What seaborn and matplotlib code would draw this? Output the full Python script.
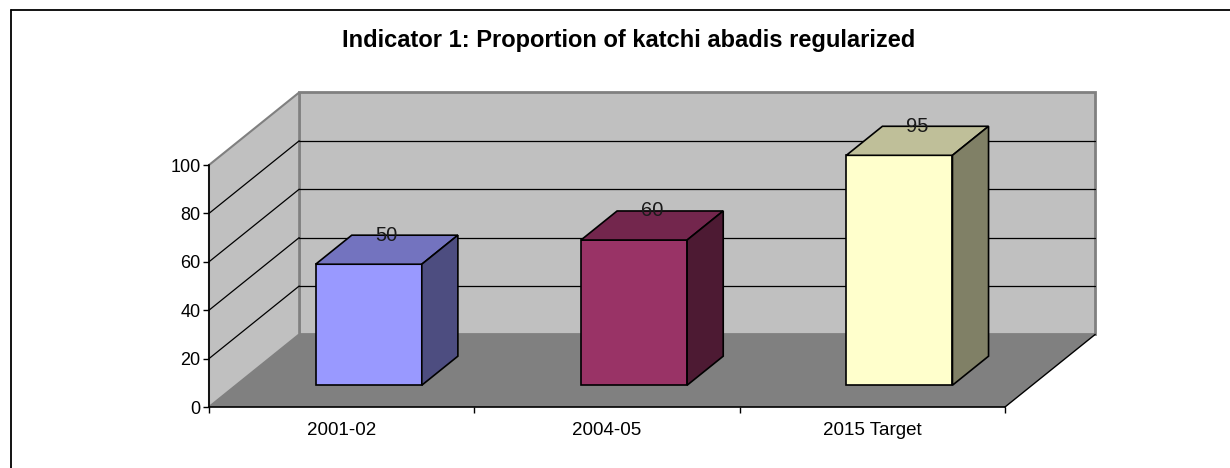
import matplotlib
matplotlib.use('Agg')
import matplotlib.pyplot as plt
import matplotlib.colors as mcolors
from matplotlib.patches import Polygon
from matplotlib.lines import Line2D
from matplotlib.transforms import Affine2D
import seaborn as sns
import pandas as pd

sns.set_theme(style='white')
plt.rcParams['font.family'] = ['Liberation Sans', 'DejaVu Sans']

# chart data
categories = ['2001-02', '2004-05', '2015 Target']
values = [50, 60, 95]
yticks = [0, 20, 40, 60, 80, 100]
title = 'Indicator 1: Proportion of katchi abadis regularized'

bar_colors = ['#9999FF', '#993366', '#FFFFCC']

# 3d look: depth vector of the walls in data units, bar front/back depth fractions
DX, DY = 0.34, 30.0
F0, F1 = 0.30, 0.70
W, H = 1230, 468

fig = plt.figure(figsize=(W / 100, H / 100), dpi=100)
fig.patch.set_facecolor('white')
ax = fig.add_axes([209 / W, (H - 407) / H, 796 / W, 242 / H])
ax.set_facecolor('none')

df = pd.DataFrame({'period': categories, 'value': values})
sns.barplot(data=df, x='period', y='value', hue='period', palette=bar_colors,
            width=0.4, saturation=1, legend=False, ax=ax, edgecolor='black',
            linewidth=1.2, zorder=5)

ax.set_xlim(-0.5, 2.5)
ax.set_ylim(0, 100)

# walls and floor
x0, x1 = -0.5, 2.5
back = Polygon([(x0 + DX, DY), (x1 + DX, DY), (x1 + DX, 100 + DY), (x0 + DX, 100 + DY)],
               closed=True, facecolor='#C0C0C0', edgecolor='#808080', lw=2,
               zorder=0, clip_on=False)
side = Polygon([(x0, 0), (x0 + DX, DY), (x0 + DX, 100 + DY), (x0, 100)],
               closed=True, facecolor='#C0C0C0', edgecolor='#808080', lw=1.5,
               zorder=0, clip_on=False)
floor = Polygon([(x0, 0), (x1, 0), (x1 + DX, DY), (x0 + DX, DY)],
                closed=True, facecolor='#808080', edgecolor='none',
                zorder=1, clip_on=False)
for p in (back, side, floor):
    ax.add_patch(p)
ax.plot([x1, x1 + DX], [0, DY], color='black', lw=1, zorder=2, clip_on=False)

for v in yticks[1:-1]:
    ax.plot([x0 + DX, x1 + DX], [v + DY, v + DY], color='black', lw=0.9,
            zorder=2, clip_on=False)
    ax.plot([x0, x0 + DX], [v, v + DY], color='black', lw=0.9,
            zorder=2, clip_on=False)

# push front faces into the depth and add top / side faces
shift = Affine2D().translate(F0 * DX, F0 * DY)
bd = F1 - F0
bars = list(ax.patches[:len(values)])
for bar, color, val in zip(bars, bar_colors, values):
    bar.set_transform(shift + ax.transData)
    bar.set_clip_on(False)
    bx0 = bar.get_x() + F0 * DX
    bx1 = bx0 + bar.get_width()
    by0 = bar.get_y() + F0 * DY
    bh = bar.get_height()
    rgb = mcolors.to_rgb(color)
    top_c = tuple(c * 0.75 for c in rgb)
    side_c = tuple(c * 0.5 for c in rgb)
    top = Polygon([(bx0, by0 + bh), (bx1, by0 + bh),
                   (bx1 + bd * DX, by0 + bh + bd * DY), (bx0 + bd * DX, by0 + bh + bd * DY)],
                  closed=True, facecolor=top_c, edgecolor='black', lw=1.2,
                  zorder=5, clip_on=False)
    sd = Polygon([(bx1, by0), (bx1, by0 + bh),
                  (bx1 + bd * DX, by0 + bh + bd * DY), (bx1 + bd * DX, by0 + bd * DY)],
                 closed=True, facecolor=side_c, edgecolor='black', lw=1.2,
                 zorder=5, clip_on=False)
    ax.add_patch(top)
    ax.add_patch(sd)
    ax.text((bx0 + bx1) / 2 + bd * DX / 2, by0 + bh + bd * DY, str(val),
            ha='center', va='center', fontsize=14.5, color='#1a1a1a',
            zorder=10, clip_on=False)

# axes
for s in ['top', 'right']:
    ax.spines[s].set_visible(False)
for s in ['left', 'bottom']:
    ax.spines[s].set_color('black')
    ax.spines[s].set_linewidth(1.2)
    ax.spines[s].set_zorder(3)

ax.set_yticks(yticks)
ax.set_yticklabels([str(t) for t in yticks], fontsize=13)
ax.set_xticks([-0.5, 0.5, 1.5, 2.5])
ax.set_xticklabels([])
ax.set_xticks([0, 1, 2], minor=True)
ax.set_xticklabels(categories, minor=True, fontsize=13.5)
ax.tick_params(axis='y', which='major', left=True, length=4.5, width=1,
               color='black', pad=1.5, labelcolor='black')
ax.tick_params(axis='x', which='major', bottom=True, length=4.5, width=1,
               color='black')
ax.tick_params(axis='x', which='minor', bottom=True, length=0, pad=11,
               labelcolor='black')
ax.set_xlabel('')
ax.set_ylabel('')

fig.text(629 / W, 1 - 41 / H, title, ha='center', va='center',
         fontsize=17, fontweight='bold', color='black')

# outer frame (only left and top edges visible in the crop)
fx, fy = 11 / W, 1 - 10 / H
fig.add_artist(Line2D([fx, fx], [0, fy], transform=fig.transFigure,
                      color='black', lw=1.3))
fig.add_artist(Line2D([fx, 1], [fy, fy], transform=fig.transFigure,
                      color='black', lw=1.3))

fig.savefig('out.png', dpi=100)
